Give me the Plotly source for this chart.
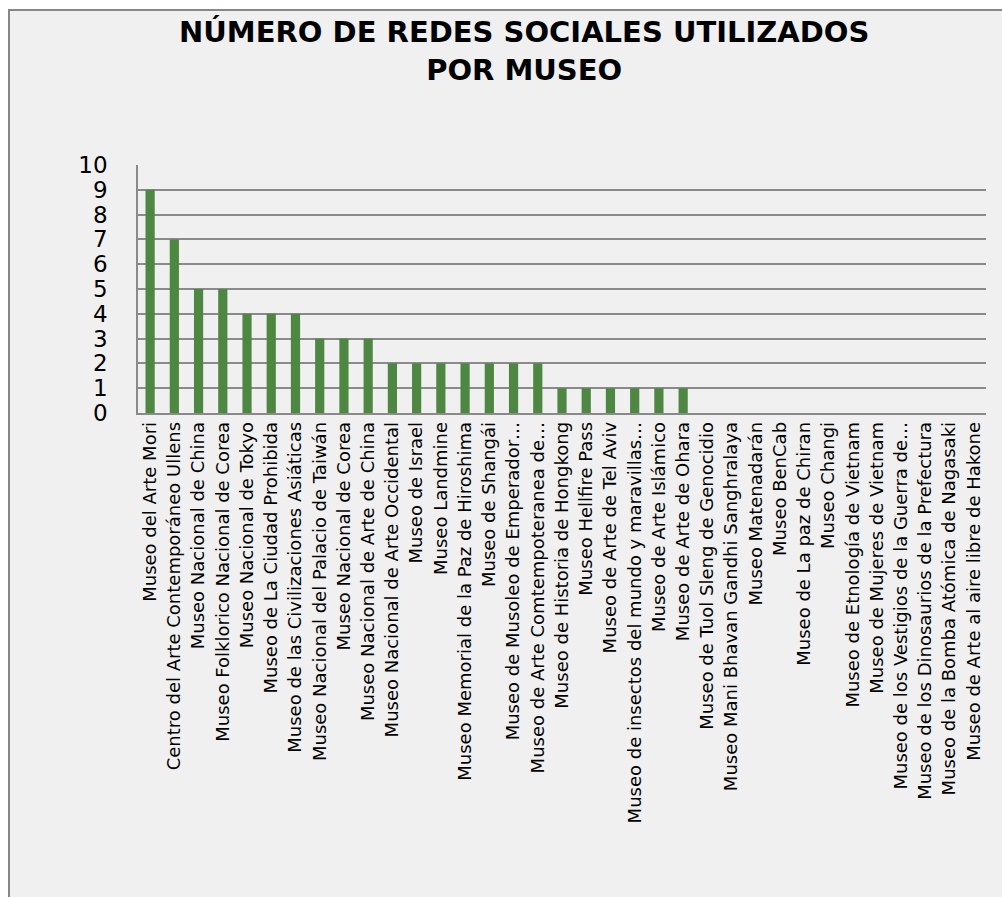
import plotly.graph_objects as go

museos = [
    "Museo del Arte Mori",
    "Centro del Arte Contemporáneo Ullens",
    "Museo Nacional de China",
    "Museo Folklorico Nacional de Corea",
    "Museo Nacional de Tokyo",
    "Museo de La Ciudad Prohibida",
    "Museo de las Civilizaciones Asiáticas",
    "Museo Nacional del Palacio de Taiwán",
    "Museo Nacional de Corea",
    "Museo Nacional de Arte de China",
    "Museo Nacional de Arte Occidental",
    "Museo de Israel",
    "Museo Landmine",
    "Museo Memorial de la Paz de Hiroshima",
    "Museo de Shangái",
    "Museo de Musoleo de Emperador…",
    "Museo de Arte Comtempoteranea de…",
    "Museo de Historia de Hongkong",
    "Museo Hellfire Pass",
    "Museo de Arte de Tel Aviv",
    "Museo de insectos del mundo y maravillas…",
    "Museo de Arte Islámico",
    "Museo de Arte de Ohara",
    "Museo de Tuol Sleng de Genocidio",
    "Museo Mani Bhavan Gandhi Sanghralaya",
    "Museo Matenadarán",
    "Museo BenCab",
    "Museo de La paz de Chiran",
    "Museo Changi",
    "Museo de Etnología de Vietnam",
    "Museo de Mujeres de Vietnam",
    "Museo de los Vestigios de la Guerra de…",
    "Museo de los Dinosaurios de la Prefectura",
    "Museo de la Bomba Atómica de Nagasaki",
    "Museo de Arte al aire libre de Hakone",
]
redes = [9, 7, 5, 5, 4, 4, 4, 3, 3, 3, 2, 2, 2, 2, 2, 2, 2, 1, 1, 1, 1, 1, 1,
         0, 0, 0, 0, 0, 0, 0, 0, 0, 0, 0, 0]
y_ticks = list(range(0, 11))
titulo = "NÚMERO DE REDES SOCIALES UTILIZADOS<br>POR MUSEO"

W, H = 1002, 897
L, R, T, B = 138, 16, 165, 484
pw, ph = W - L - R, H - T - B

fig = go.Figure(go.Bar(x=museos, y=redes, marker_color="#4e8742",
                       marker_line_width=0))

def px_x(p):
    return (p - L) / pw

def px_y(p):
    return (H - B - p) / ph

fig.add_shape(type="rect", xref="paper", yref="paper",
              x0=px_x(9), x1=px_x(1020), y0=px_y(915), y1=px_y(10),
              fillcolor="#f0f0f0", line=dict(color="#878787", width=2),
              layer="below")

fig.add_annotation(text="<b>" + titulo + "</b>", xref="paper", yref="paper",
                   x=px_x(524), y=px_y(13), xanchor="center", yanchor="top",
                   showarrow=False, align="center",
                   font=dict(family="DejaVu Sans", size=29, color="black"))

fig.update_layout(
    width=W, height=H,
    margin=dict(l=L, r=R, t=T, b=B, pad=0),
    paper_bgcolor="white",
    plot_bgcolor="rgba(0,0,0,0)",
    bargap=0.62,
    showlegend=False,
    font=dict(family="DejaVu Sans", color="black"),
)
fig.update_xaxes(tickangle=-90, tickfont=dict(size=18, family="DejaVu Sans"),
                 showline=True, linecolor="#8a8a8a", linewidth=1.5,
                 showgrid=False, ticks="", automargin=False)
fig.update_yaxes(range=[0, 10], tickvals=y_ticks, ticks="",
                 tickfont=dict(size=23, family="DejaVu Sans"),
                 ticklabelstandoff=24,
                 showgrid=True, gridcolor="#8a8a8a", gridwidth=1.5,
                 showline=True, linecolor="#8a8a8a", linewidth=1.5,
                 zeroline=False, automargin=False)

fig.write_html("out.html")
